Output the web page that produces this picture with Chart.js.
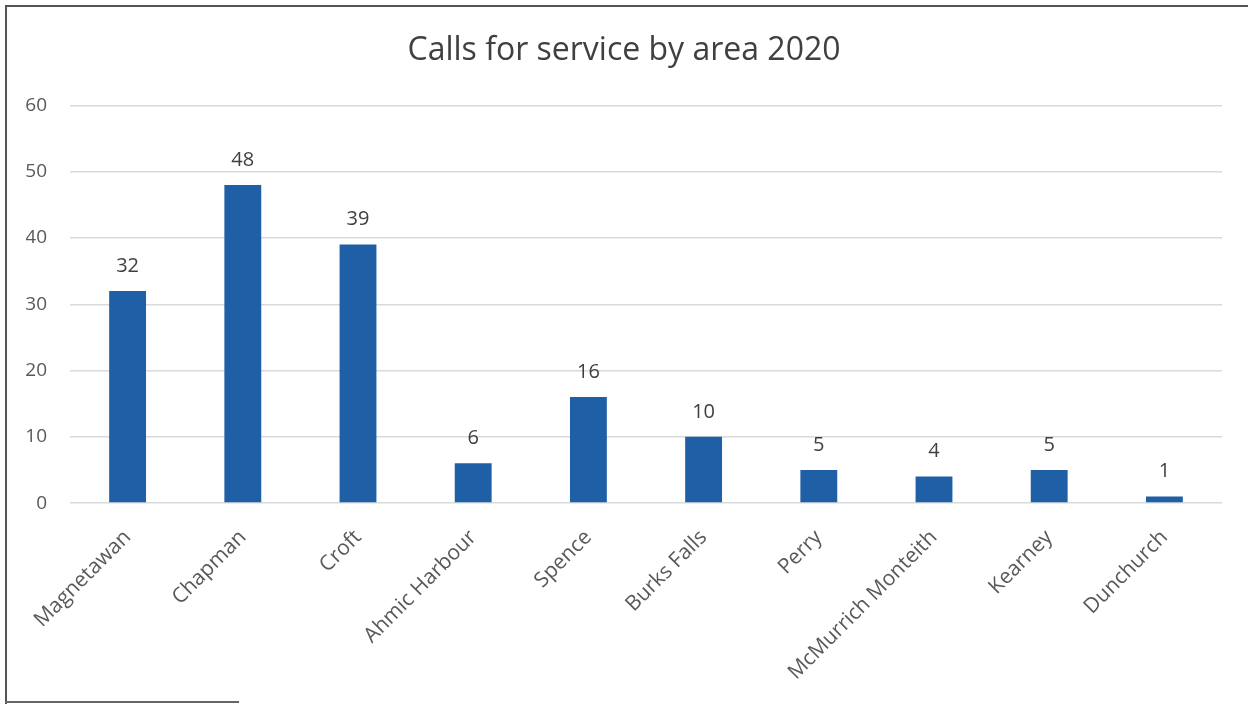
<!DOCTYPE html>
<html>
<head>
<meta charset="utf-8">
<script src="https://cdn.jsdelivr.net/npm/chart.js@4"></script>
<style>
  html, body { margin: 0; padding: 0; background: #fff; }
  #wrap { position: relative; width: 1248px; height: 704px; }
  #frame { position: absolute; left: 5px; top: 5px; width: 1300px; height: 697px;
           border-left: 2px solid #555; border-top: 2px solid #555; }
  #bottomEdge { position: absolute; left: 5px; top: 701px; width: 234px; height: 2px; background: #666; }
  canvas { position: absolute; left: 0; top: 0; }
</style>
</head>
<body>
<div id="wrap">
  <div id="frame"></div>
  <div id="bottomEdge"></div>
  <canvas id="chart" width="1248" height="704"></canvas>
</div>
<script>
// Data
const areas = ["Magnetawan", "Chapman", "Croft", "Ahmic Harbour", "Spence", "Burks Falls",
               "Perry", "McMurrich Monteith", "Kearney", "Dunchurch"];
const calls = [32, 48, 39, 6, 16, 10, 5, 4, 5, 1];
const yTicks = [0, 10, 20, 30, 40, 50, 60];

const fontFamily = "'Open Sans', 'Liberation Sans', sans-serif";

// Value labels above each bar
const valueLabels = {
    id: 'valueLabels',
    afterDatasetsDraw(chart) {
        const ctx = chart.ctx;
        const meta = chart.getDatasetMeta(0);
        ctx.save();
        ctx.font = `20px ${fontFamily}`;
        ctx.fillStyle = '#404040';
        ctx.textAlign = 'center';
        ctx.textBaseline = 'bottom';
        meta.data.forEach((bar, i) => {
            ctx.fillText(String(calls[i]), bar.x, bar.y - 15);
        });
        ctx.restore();
    }
};

new Chart(document.getElementById('chart'), {
    type: 'bar',
    data: {
        labels: areas,
        datasets: [{
            data: calls,
            backgroundColor: '#1F5FA5',
            borderWidth: 0,
            barPercentage: 0.32,
            categoryPercentage: 1.0
        }]
    },
    options: {
        responsive: false,
        animation: false,
        layout: { padding: { left: 26, right: 26, top: 0, bottom: 5 } },
        plugins: {
            legend: { display: false },
            tooltip: { enabled: false },
            title: {
                display: true,
                text: 'Calls for service by area 2020',
                color: '#404040',
                font: { family: fontFamily, size: 32, weight: 'normal' },
                padding: { top: 32, bottom: 35 }
            }
        },
        scales: {
            x: {
                grid: { display: false },
                border: { display: false },
                ticks: {
                    color: '#595959',
                    font: { family: fontFamily, size: 21 },
                    maxRotation: 45,
                    minRotation: 45,
                    padding: 14
                }
            },
            y: {
                min: 0,
                max: 60,
                afterBuildTicks(axis) { axis.ticks = yTicks.map(v => ({ value: v })); },
                afterFit(axis) { axis.width = 44; },
                grid: { color: '#D9D9D9', lineWidth: 1.5, drawTicks: false },
                border: { display: false },
                ticks: {
                    color: '#595959',
                    font: { family: fontFamily, size: 19 },
                    padding: 23
                }
            }
        }
    },
    plugins: [valueLabels]
});
</script>
</body>
</html>
